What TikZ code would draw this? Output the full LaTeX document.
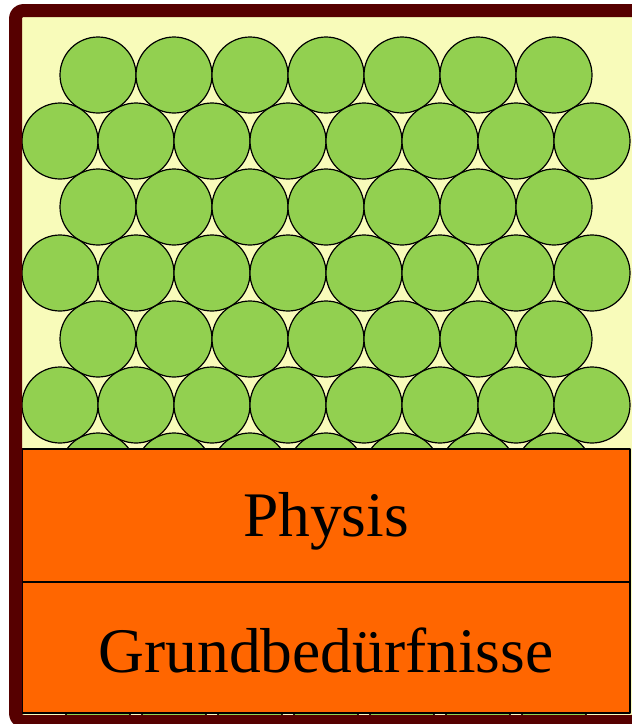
\documentclass[tikz,border=0pt]{standalone}
\usepackage{fontspec}
\setmainfont{Liberation Serif}
\definecolor{rahmen}{HTML}{560000}
\definecolor{grund}{HTML}{F8FBBA}
\definecolor{kugel}{HTML}{92D050}
\definecolor{schicht}{HTML}{FF6600}
\tikzset{
  kugelstil/.style={draw=black, line width=0.6pt, fill=kugel},
  schichtstil/.style={draw=black, line width=0.6pt, fill=schicht},
  textstil/.style={font=\fontsize{31.75}{36}\selectfont, inner sep=0pt}
}

\begin{document}
\begin{tikzpicture}[line cap=round,line join=round,x=0.5pt,y=-0.5pt]
		\useasboundingbox (0,0) rectangle (632,724);
		%Hintergrund
		\fill[grund] (22,17) rectangle (640,716);
		%Kugeln
		\begin{scope}
		\clip (22,17) rectangle (640,716);
		\foreach \r in {0,2,4,6,8,10}{
			\foreach \k in {0,...,6}
				\draw[kugelstil] (98+76*\k,75+66*\r) circle (38);
		}
		\foreach \r in {1,3,5,7,9}{
			\foreach \k in {0,...,7}
				\draw[kugelstil] (60+76*\k,75+66*\r) circle (38);
		}
		\end{scope}
		%Schichten
		\draw[schichtstil] (22,449) rectangle (630,582);
		\draw[schichtstil] (22,582) rectangle (630,713);
		\node[textstil] (physis) at (326,521) {Physis};
		\node[textstil] (grund) at (326,650) {Grundbedürfnisse};
		%Rahmen
		\draw[rahmen, line width=6.5pt, rounded corners=4pt] (15.5,10.5) rectangle (640,721.5);
		\end{tikzpicture}
\end{document}
